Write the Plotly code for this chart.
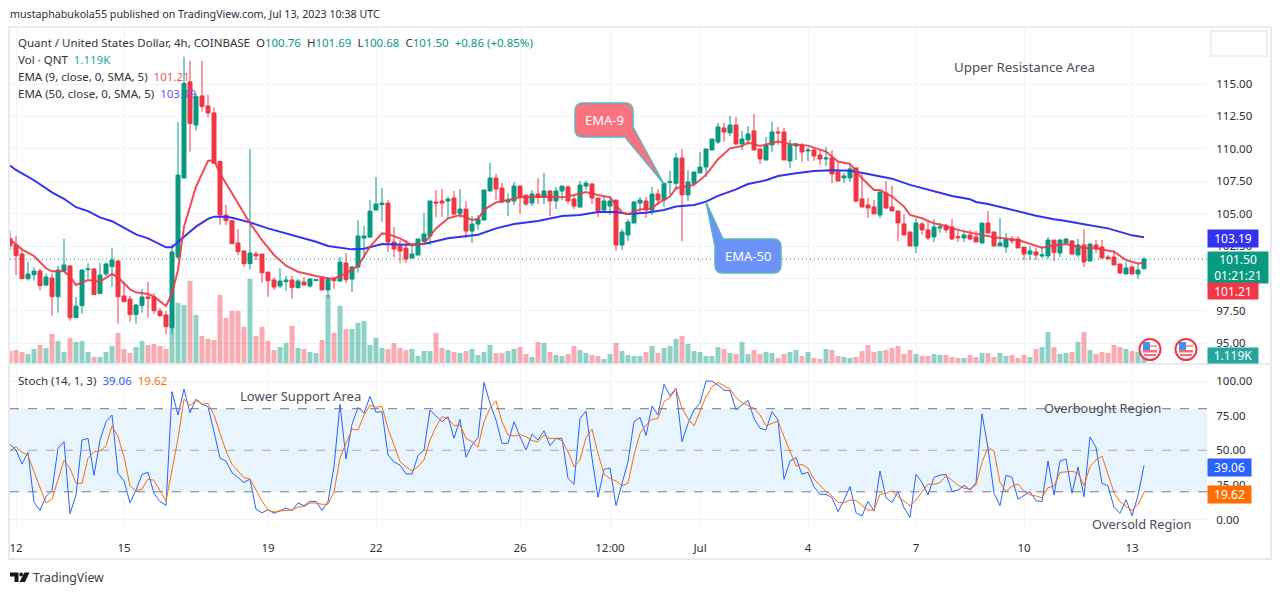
import pandas as pd
import plotly.graph_objects as go

FONT = "Noto Sans"
GREEN = "#089981"
RED = "#f23645"

# 4h bars, the first one is Jun 11 20:00
opens = [
    103.10, 102.59, 101.89, 99.99, 100.30, 100.58, 99.50, 100.04, 98.60, 100.58,
    100.97, 96.98, 97.91, 100.69, 100.74, 98.84, 100.35, 100.92, 101.35, 98.66,
    98.42, 97.22, 97.91, 98.58, 98.58, 97.50, 97.19, 96.21, 101.66, 107.75,
    115.16, 111.84, 114.08, 113.31, 112.77, 109.02, 104.90, 104.46, 102.74, 102.12,
    101.15, 101.89, 101.89, 100.50, 99.89, 99.43, 99.76, 99.89, 99.30, 99.73,
    99.43, 99.84, 100.04, 99.12, 100.00, 99.81, 101.20, 99.96, 100.89, 103.12,
    103.20, 105.28, 105.70, 105.82, 102.82, 102.51, 102.35, 101.58, 101.81, 102.87,
    103.28, 105.90, 105.98, 105.98, 106.21, 105.03, 105.36, 103.66, 104.20, 104.51,
    106.75, 107.75, 106.98, 105.90, 105.98, 107.13, 106.44, 105.82, 106.52, 106.26,
    106.75, 105.98, 106.75, 107.06, 106.13, 105.51, 107.13, 107.29, 106.21, 105.28,
    105.59, 106.05, 102.58, 103.36, 104.28, 105.82, 105.98, 105.28, 106.52, 106.06,
    107.40, 107.34, 109.30, 106.45, 107.34, 108.14, 108.60, 109.91, 110.53, 111.61,
    111.23, 111.84, 110.38, 110.69, 111.38, 109.99, 109.14, 110.30, 111.30, 111.30,
    109.07, 110.22, 110.30, 109.84, 109.91, 109.53, 109.22, 109.30, 108.22, 107.76,
    107.76, 108.53, 106.14, 105.67, 105.52, 104.90, 106.60, 105.52, 105.21, 104.21,
    103.59, 102.51, 104.21, 103.75, 103.21, 103.90, 104.10, 103.98, 103.23, 103.13,
    103.36, 103.21, 102.74, 104.28, 103.59, 102.51, 102.43, 103.05, 103.05, 102.43,
    101.89, 102.05, 101.74, 101.74, 102.97, 101.97, 102.74, 102.90, 101.82, 102.59,
    101.35, 102.59, 102.43, 101.66, 101.66, 101.12, 100.35, 100.89, 100.35, 100.76,
]
highs = [
    103.67, 103.28, 102.20, 101.30, 100.87, 100.79, 100.40, 100.40, 100.97, 103.05,
    101.05, 98.58, 100.66, 101.17, 100.81, 101.20, 101.23, 102.36, 101.43, 99.73,
    98.66, 98.04, 99.20, 99.73, 98.89, 97.76, 97.50, 102.66, 112.07, 117.11,
    116.78, 114.28, 116.78, 114.16, 113.20, 109.10, 105.67, 104.46, 103.82, 102.20,
    109.99, 102.12, 101.89, 100.50, 100.10, 100.81, 100.20, 100.20, 99.97, 100.12,
    99.97, 99.95, 100.12, 100.12, 100.00, 101.66, 101.97, 100.97, 104.51, 104.05,
    106.05, 107.83, 106.98, 106.05, 103.97, 102.97, 102.97, 102.60, 103.05, 105.05,
    105.98, 106.83, 106.90, 106.31, 106.75, 106.90, 105.98, 104.82, 104.90, 106.83,
    108.91, 108.06, 107.36, 106.57, 107.44, 107.21, 106.44, 106.83, 107.75, 108.14,
    106.83, 107.06, 107.13, 107.21, 106.44, 107.52, 107.52, 107.36, 106.21, 106.36,
    106.36, 106.05, 103.82, 104.59, 105.98, 106.29, 106.29, 107.06, 106.90, 107.44,
    108.30, 109.68, 109.99, 108.37, 108.22, 109.76, 109.99, 110.76, 112.00, 112.00,
    112.54, 112.46, 111.38, 111.77, 112.69, 109.99, 110.92, 112.07, 111.69, 111.61,
    110.69, 110.46, 110.46, 110.15, 110.07, 109.91, 110.15, 109.91, 109.07, 108.14,
    108.76, 108.53, 108.22, 106.21, 106.06, 106.68, 107.52, 107.14, 105.21, 104.98,
    103.59, 104.67, 104.36, 104.44, 104.59, 104.29, 104.21, 104.59, 103.67, 103.67,
    103.75, 103.67, 104.28, 105.21, 103.59, 104.67, 103.51, 103.28, 103.28, 102.43,
    102.51, 102.36, 102.51, 103.20, 102.97, 103.05, 103.13, 102.97, 103.05, 103.82,
    102.67, 102.97, 102.97, 101.82, 102.20, 101.12, 101.28, 101.05, 101.12, 101.69,
]
lows = [
    102.20, 100.27, 99.99, 99.84, 99.84, 99.07, 99.43, 97.14, 97.37, 100.53,
    96.75, 96.98, 97.29, 100.02, 98.76, 98.84, 100.20, 99.37, 96.52, 98.22,
    96.68, 96.52, 97.37, 96.98, 97.29, 97.06, 95.67, 95.75, 101.50, 107.70,
    109.79, 111.41, 112.87, 112.43, 108.85, 104.15, 104.13, 102.69, 101.82, 100.92,
    100.69, 101.43, 99.68, 98.60, 99.12, 99.25, 99.07, 98.45, 99.22, 99.50,
    99.30, 99.80, 99.12, 98.50, 99.22, 99.73, 99.65, 98.96, 100.45, 101.53,
    103.12, 105.28, 104.36, 102.05, 101.66, 101.20, 101.20, 101.58, 101.81, 102.87,
    102.58, 104.74, 104.74, 104.59, 104.90, 104.67, 103.12, 102.76, 103.74, 104.51,
    106.75, 106.05, 105.82, 104.82, 105.67, 104.97, 105.59, 105.59, 105.75, 105.75,
    104.82, 105.36, 106.05, 105.75, 105.36, 105.51, 106.83, 105.75, 104.74, 105.13,
    104.90, 102.12, 102.20, 102.89, 104.28, 105.13, 104.67, 104.90, 105.67, 105.52,
    106.45, 106.83, 102.90, 105.98, 107.14, 108.14, 107.83, 109.91, 110.38, 110.53,
    111.00, 110.30, 109.91, 110.30, 109.91, 108.84, 109.14, 109.76, 110.30, 109.14,
    108.53, 109.14, 108.99, 109.07, 109.07, 108.76, 108.68, 107.37, 107.52, 107.37,
    107.45, 105.83, 105.52, 104.67, 104.98, 104.67, 105.37, 105.21, 102.90, 103.36,
    102.51, 101.97, 103.36, 102.98, 102.82, 103.52, 103.52, 102.97, 102.82, 102.82,
    102.97, 102.82, 102.74, 103.51, 102.51, 102.51, 101.97, 102.67, 102.36, 101.43,
    101.43, 101.43, 101.59, 101.51, 101.35, 101.66, 102.67, 101.82, 101.66, 100.89,
    101.35, 101.97, 101.59, 101.43, 101.05, 100.35, 100.35, 100.35, 99.97, 100.68,
]
closes = [
    102.54, 101.76, 99.99, 100.35, 100.58, 99.45, 100.12, 98.60, 100.66, 101.05,
    96.98, 97.88, 100.66, 100.74, 98.76, 100.27, 101.12, 101.43, 98.60, 98.22,
    97.22, 97.96, 98.58, 98.48, 97.52, 97.14, 96.29, 102.05, 107.98, 115.05,
    111.95, 114.03, 113.26, 112.77, 108.89, 104.90, 104.46, 102.69, 102.07, 101.15,
    101.97, 101.74, 100.45, 99.84, 99.35, 99.81, 99.89, 99.30, 99.81, 99.50,
    99.97, 99.91, 99.12, 99.97, 99.83, 101.27, 99.91, 100.89, 103.28, 103.28,
    105.20, 105.75, 105.82, 102.82, 102.28, 102.12, 101.50, 101.89, 103.05, 103.43,
    105.98, 105.82, 105.82, 106.13, 104.97, 105.36, 103.66, 104.20, 104.59, 106.83,
    107.75, 106.90, 105.90, 106.05, 107.13, 106.26, 105.75, 106.52, 106.26, 106.75,
    105.98, 106.75, 107.13, 105.98, 105.59, 107.21, 107.36, 106.21, 105.20, 105.98,
    105.98, 102.58, 103.59, 104.36, 105.90, 106.05, 105.28, 106.52, 106.05, 107.34,
    107.47, 109.30, 106.45, 107.45, 108.22, 108.60, 109.99, 110.76, 111.69, 111.30,
    111.84, 110.38, 110.76, 111.15, 109.91, 109.22, 110.30, 111.30, 111.23, 109.14,
    110.30, 110.38, 109.76, 109.91, 109.45, 109.22, 109.30, 108.06, 107.52, 107.91,
    108.45, 105.98, 105.52, 105.44, 104.98, 106.68, 105.44, 105.21, 104.29, 103.36,
    102.51, 104.29, 103.75, 103.13, 103.98, 103.98, 103.75, 103.05, 103.15, 103.36,
    103.05, 102.82, 104.28, 103.51, 102.51, 102.74, 103.05, 102.90, 102.36, 101.89,
    102.13, 101.82, 101.82, 102.97, 102.00, 102.97, 103.05, 101.89, 102.59, 101.28,
    102.67, 102.28, 101.59, 101.53, 101.05, 100.43, 100.82, 100.35, 100.66, 101.50,
]
# thousands of QNT
volumes = [
    1.34, 1.45, 1.23, 1.01, 1.57, 2.01, 1.68, 3.25, 2.46, 1.23,
    2.80, 2.35, 2.46, 1.23, 0.67, 0.67, 1.23, 1.90, 3.36, 1.57,
    1.12, 1.79, 2.46, 2.01, 2.13, 1.90, 1.57, 5.20, 6.71, 6.49,
    9.18, 5.37, 3.02, 2.69, 2.57, 7.61, 5.04, 5.82, 5.82, 4.03,
    9.40, 3.02, 4.03, 2.46, 1.45, 1.79, 2.24, 4.14, 1.68, 1.57,
    1.23, 1.12, 2.57, 7.61, 3.36, 6.38, 3.80, 3.80, 4.48, 4.70,
    2.01, 2.80, 1.68, 1.57, 2.24, 1.68, 1.45, 1.57, 0.78, 1.34,
    1.34, 3.36, 1.68, 1.45, 1.23, 1.12, 1.34, 1.57, 0.90, 1.23,
    2.01, 1.12, 1.12, 1.34, 1.57, 1.79, 1.01, 0.67, 2.35, 2.24,
    1.23, 0.90, 0.78, 1.01, 1.90, 1.45, 1.12, 0.90, 0.78, 0.45,
    1.01, 2.24, 1.34, 0.90, 0.78, 0.78, 1.23, 1.90, 1.12, 1.68,
    1.90, 2.69, 3.02, 2.13, 1.34, 1.23, 0.78, 0.78, 1.79, 1.57,
    1.12, 1.01, 2.35, 1.01, 1.45, 1.01, 1.23, 1.12, 0.56, 1.01,
    1.23, 1.45, 0.78, 1.23, 0.56, 0.45, 1.57, 1.45, 0.78, 0.67,
    0.56, 0.67, 1.34, 2.01, 1.23, 1.34, 1.45, 1.68, 1.90, 1.01,
    1.45, 1.01, 0.78, 0.78, 1.01, 0.90, 0.90, 0.67, 0.56, 0.56,
    0.90, 0.67, 1.12, 1.12, 0.67, 1.12, 0.78, 0.90, 0.56, 0.90,
    0.67, 1.57, 1.79, 3.47, 1.79, 1.01, 1.12, 1.23, 2.35, 3.47,
    1.45, 1.01, 1.23, 1.12, 2.01, 1.79, 1.57, 1.34, 1.23, 1.119,
]

# the EMAs at these bars only
ema9_bars = [
    -1, 1, 3, 5, 6, 8, 9, 10, 12, 14, 16, 17, 19, 20, 22, 23, 25, 26, 27, 28, 30,
    31, 32, 33, 34, 36, 39, 41, 43, 45, 47, 50, 52, 53, 55, 57, 59, 61, 62, 64,
    66, 68, 70, 72, 74, 76, 77, 78, 80, 82, 84, 88, 91, 93, 95, 97, 99, 101, 102,
    104, 106, 107, 109, 110, 113, 115, 117, 119, 121, 122, 124, 127, 129, 132,
    135, 137, 139, 141, 143, 144, 146, 148, 149, 151, 153, 155, 156, 159, 161,
    163, 167, 169, 171, 173, 175, 178, 180, 183, 185, 187, 188,
]
ema9_vals = [
    103.00, 102.25, 101.74, 100.79, 100.56, 100.56, 100.15, 99.50, 99.89, 99.76,
    100.35, 100.09, 99.17, 98.94, 98.81, 98.60, 97.88, 98.86, 100.66, 104.00,
    107.08, 108.10, 109.07, 109.14, 108.10, 106.57, 104.26, 102.97, 101.82, 100.99,
    100.53, 100.20, 100.02, 100.01, 100.40, 100.97, 102.46, 103.48, 103.43, 103.10,
    102.58, 102.71, 103.87, 104.64, 104.90, 104.51, 104.59, 105.30, 105.87, 106.05,
    106.26, 106.31, 106.26, 106.44, 106.67, 106.44, 106.26, 105.10, 104.97, 105.33,
    105.41, 105.80, 106.32, 106.96, 107.22, 107.99, 109.20, 110.04, 110.22, 110.48,
    110.22, 110.56, 110.38, 110.25, 109.79, 109.02, 108.84, 107.73, 106.83, 106.83,
    106.32, 105.55, 104.90, 104.65, 104.26, 104.05, 103.87, 103.54, 103.36, 103.18,
    102.97, 102.67, 102.38, 102.54, 102.67, 102.33, 102.33, 102.07, 101.43, 101.17,
    101.21,
]
ema50_bars = [
    -1, 0, 3, 6, 8, 10, 12, 14, 16, 20, 22, 25, 26, 27, 28, 30, 32, 33, 35, 36, 39,
    42, 45, 47, 50, 52, 56, 58, 61, 65, 68, 72, 75, 77, 80, 83, 87, 91, 94, 97,
    100, 102, 105, 107, 108, 110, 113, 115, 117, 120, 122, 125, 127, 130, 133,
    136, 139, 142, 144, 146, 149, 152, 155, 156, 159, 160, 162, 167, 170, 173,
    175, 178, 182, 186, 188,
]
ema50_vals = [
    108.71, 108.37, 107.58, 106.65, 106.15, 105.50, 105.20, 104.72, 104.42, 103.40,
    103.10, 102.41, 102.41, 102.84, 103.23, 104.00, 104.60, 104.77, 104.77, 104.68,
    104.33, 103.87, 103.49, 103.25, 102.84, 102.51, 102.25, 102.30, 102.66, 102.61,
    102.66, 103.10, 103.28, 103.38, 103.87, 104.20, 104.43, 104.82, 104.90, 105.13,
    105.13, 104.97, 105.08, 105.20, 105.29, 105.55, 105.67, 105.93, 106.37, 106.88,
    107.29, 107.58, 107.91, 108.12, 108.30, 108.35, 108.32, 108.06, 107.86, 107.70,
    107.22, 106.83, 106.47, 106.37, 106.11, 105.90, 105.75, 105.18, 104.85, 104.57,
    104.44, 104.18, 103.87, 103.33, 103.19,
]

stoch_k = [
    54.3, 50.2, 40.1, 48.5, 12.4, 6.6, 16.7, 20.8, 51.4, 56.2,
    4.2, 17.7, 57.4, 58.6, 31.9, 57.2, 70.6, 75.5, 33.3, 28.0,
    11.9, 21.3, 32.6, 34.1, 18.9, 12.9, 10.2, 92.3, 75.5, 94.2,
    77.1, 86.8, 83.2, 81.5, 63.4, 44.2, 42.2, 33.8, 30.4, 26.6,
    29.2, 7.3, 4.9, 7.1, 4.5, 6.6, 8.3, 6.4, 11.9, 10.0,
    13.1, 13.1, 6.6, 12.9, 38.1, 83.2, 43.7, 68.7, 81.0, 76.7,
    88.9, 77.4, 77.9, 46.6, 41.5, 39.3, 32.9, 32.9, 46.1, 50.2,
    79.1, 74.7, 70.6, 74.2, 58.6, 72.3, 44.9, 53.8, 59.1, 99.0,
    83.9, 71.8, 55.0, 55.0, 70.6, 59.8, 50.2, 61.5, 57.4, 64.1,
    53.3, 58.6, 58.6, 29.7, 25.4, 73.0, 78.3, 44.2, 16.0, 36.2,
    37.2, 10.0, 26.1, 41.8, 70.6, 73.8, 60.6, 81.9, 75.5, 97.6,
    89.4, 94.7, 56.2, 69.4, 79.1, 83.9, 100.0, 99.8, 97.1, 93.3,
    93.0, 79.1, 82.7, 86.0, 73.0, 65.8, 64.6, 77.9, 71.8, 29.0,
    42.2, 44.6, 32.6, 34.1, 23.7, 18.2, 18.2, 15.8, 5.7, 14.1,
    23.7, 4.9, 2.5, 13.1, 6.1, 35.0, 15.8, 12.2, 20.1, 8.5,
    1.6, 32.6, 26.8, 17.7, 30.4, 32.1, 32.6, 20.3, 21.1, 24.7,
    21.3, 26.6, 76.4, 51.4, 19.1, 10.0, 31.9, 30.4, 14.6, 17.2,
    20.1, 13.6, 12.9, 42.2, 17.7, 42.2, 43.7, 18.9, 37.9, 16.5,
    59.6, 52.1, 26.1, 24.4, 8.8, 4.5, 14.3, 2.8, 17.2, 39.06,
]
stoch_d = [
    49.5, 52.6, 48.5, 46.3, 34.5, 23.7, 11.9, 14.6, 28.5, 42.7,
    37.0, 26.1, 26.1, 44.2, 49.0, 49.5, 53.1, 67.5, 59.8, 45.4,
    24.4, 20.6, 22.0, 29.2, 28.3, 21.3, 13.4, 35.7, 58.6, 87.0,
    82.2, 86.0, 83.2, 83.9, 75.5, 62.2, 49.5, 39.8, 35.0, 30.2,
    29.2, 21.3, 13.4, 6.9, 5.4, 6.1, 6.6, 6.9, 9.0, 9.3,
    11.9, 11.9, 11.0, 11.0, 20.1, 44.2, 55.0, 65.3, 64.6, 75.5,
    82.4, 81.2, 81.5, 65.8, 53.8, 41.8, 38.1, 35.0, 38.1, 43.0,
    57.4, 67.0, 74.2, 73.0, 67.7, 68.2, 58.6, 56.2, 52.3, 70.6,
    80.3, 85.6, 70.6, 61.0, 60.3, 61.2, 59.8, 56.9, 56.2, 61.0,
    58.4, 58.6, 56.9, 49.0, 38.1, 43.0, 59.1, 65.3, 47.8, 32.6,
    29.7, 27.8, 24.4, 26.1, 46.6, 62.2, 68.2, 72.3, 73.0, 85.1,
    88.2, 94.2, 80.3, 73.0, 67.5, 77.9, 88.7, 95.7, 99.0, 96.6,
    94.2, 88.0, 84.4, 82.2, 80.3, 75.5, 67.7, 69.4, 71.1, 59.8,
    49.0, 38.6, 39.8, 37.0, 29.2, 24.4, 20.1, 17.2, 12.4, 12.1,
    14.1, 13.8, 10.5, 6.6, 6.9, 18.2, 18.9, 20.8, 16.5, 13.4,
    10.0, 14.1, 20.1, 25.6, 25.4, 26.6, 31.6, 28.5, 24.9, 22.5,
    22.0, 24.9, 41.3, 52.1, 49.5, 26.8, 20.1, 24.2, 25.6, 20.6,
    17.7, 17.0, 15.8, 23.0, 24.2, 34.0, 34.5, 34.8, 33.6, 24.4,
    38.1, 43.0, 45.8, 33.3, 19.4, 12.9, 9.3, 6.6, 11.0, 19.62,
]

assert len(opens) == len(highs) == len(lows) == len(closes) == len(volumes) == len(stoch_k) == len(stoch_d)
assert len(ema9_bars) == len(ema9_vals) and len(ema50_bars) == len(ema50_vals)

price_ticks = [95, 97.5, 100, 102.5, 105, 107.5, 110, 112.5, 115]
stoch_ticks = [0, 25, 50, 75, 100]
stoch_levels = [80, 50, 20]
date_ticks = ["2023-06-12", "2023-06-15", "2023-06-19", "2023-06-22", "2023-06-26", "2023-06-28 12:00",
              "2023-07-01", "2023-07-04", "2023-07-07", "2023-07-10", "2023-07-13"]
date_labels = ["12", "15", "19", "22", "26", "12:00", "Jul", "4", "7", "10", "13"]

first_bar = pd.Timestamp("2023-06-11 20:00")
step = pd.Timedelta(hours=4)
dates = [first_bar + step * i for i in range(len(closes))]


def bar_date(i):
    return first_bar + step * (i + 1)


# pixel helpers for everything that sits on the page rather than on the data
WIDTH, HEIGHT = 1281, 595
L, R, T, B = 10, 74, 28, 37
PW, PH = WIDTH - L - R, HEIGHT - T - B


def px(x):
    return (x - L) / PW


def py(y):
    return 1 - (y - T) / PH


def pt(x, y):
    return f"{px(x)} {py(y)}"


def poly(points):
    return "M " + " L ".join(pt(x, y) for x, y in points) + " Z"


def page_shape(**kw):
    return dict(xref="paper", yref="paper", **kw)


def page_rect(x0, y0, x1, y1, **kw):
    return page_shape(type="rect", x0=px(x0), x1=px(x1), y0=py(y0), y1=py(y1), **kw)


def page_circle(cx, cy, r, **kw):
    return page_shape(type="circle", x0=px(cx - r), x1=px(cx + r), y0=py(cy - r), y1=py(cy + r), **kw)


def text(x, y, s, color="#131722", size=12, anchor="left"):
    # annotations carry 2px of padding on the left
    return dict(xref="paper", yref="paper", x=px(x - 2 if anchor == "left" else x), y=py(y), text=s, showarrow=False,
                xanchor=anchor, yanchor="middle", font=dict(family=FONT, size=size, color=color))


def tag(x, y, w, h, s, bg):
    return dict(xref="paper", yref="paper", x=px(x), y=py(y), text=s, showarrow=False, xanchor="left",
                yanchor="top", width=w, height=h, bgcolor=bg, borderpad=0, align="center", valign="middle",
                font=dict(family=FONT, size=12, color="white"))


def bubble(x0, y0, x1, y1, fill, tail_a=None, tip=None, tail_b=None, corner="br"):
    # rounded box, the pointer replaces the bottom right or the top left corner
    r = 8
    d = [f"M {pt(x0 + r, y0)}"]
    if corner == "tl":
        d = [f"M {pt(*tail_b)}"]
    d += [f"L {pt(x1 - r, y0)}", f"Q {pt(x1, y0)} {pt(x1, y0 + r)}"]
    if corner == "br":
        d += [f"L {pt(*tail_a)}", f"L {pt(*tip)}", f"L {pt(*tail_b)}"]
    else:
        d += [f"L {pt(x1, y1 - r)}", f"Q {pt(x1, y1)} {pt(x1 - r, y1)}"]
    if corner == "br":
        d += [f"L {pt(x0 + r, y1)}"]
    else:
        d += [f"L {pt(x0 + r, y1)}"]
    d += [f"Q {pt(x0, y1)} {pt(x0, y1 - r)}"]
    if corner == "tl":
        d += [f"L {pt(*tail_a)}", f"L {pt(*tip)}", "Z"]
    else:
        d += [f"L {pt(x0, y0 + r)}", f"Q {pt(x0, y0)} {pt(x0 + r, y0)}", "Z"]
    return page_shape(type="path", path=" ".join(d), fillcolor=fill, line=dict(color="#5fb3c4", width=1.5))


GRID = "#f0f3fa"
fig = go.Figure()

fig.add_trace(go.Bar(
    x=dates, y=volumes, xaxis="x", yaxis="y",
    marker=dict(color=["rgba(8,153,129,0.45)" if c >= o else "rgba(242,54,69,0.42)" for o, c in zip(opens, closes)],
                line=dict(width=0)),
))
fig.add_trace(go.Candlestick(
    x=dates, open=opens, high=highs, low=lows, close=closes, xaxis="x", yaxis="y2",
    increasing=dict(line=dict(color=GREEN, width=1), fillcolor=GREEN),
    decreasing=dict(line=dict(color=RED, width=1), fillcolor=RED),
))
fig.add_trace(go.Scatter(x=[bar_date(i) for i in ema50_bars], y=ema50_vals, mode="lines", xaxis="x", yaxis="y2",
                         line=dict(color="#3232f0", width=2)))
fig.add_trace(go.Scatter(x=[bar_date(i) for i in ema9_bars], y=ema9_vals, mode="lines", xaxis="x", yaxis="y2",
                         line=dict(color="rgba(242,54,69,0.9)", width=2)))
fig.add_trace(go.Scatter(x=dates, y=stoch_k, mode="lines", xaxis="x", yaxis="y3",
                         line=dict(color="#2962ff", width=1)))
fig.add_trace(go.Scatter(x=dates, y=stoch_d, mode="lines", xaxis="x", yaxis="y3",
                         line=dict(color="#ff6d00", width=1)))

shapes = [
    # page frame and pane separator
    page_rect(9, 27, 1271, 559, line=dict(color="#e9ebf2", width=2), layer="below"),
    page_rect(10, 363, 1270, 365, fillcolor="#e9ebf2", line=dict(width=0), layer="below"),
    page_shape(type="rect", x0=px(1211), x1=px(1267), y0=py(31), y1=py(56), line=dict(color="#eeeff5", width=2),
               fillcolor="white"),
    # stochastic band and levels
    dict(type="rect", xref="x domain", yref="y3", x0=0, x1=1, y0=stoch_levels[2], y1=stoch_levels[0],
         fillcolor="rgba(33,150,243,0.1)", line=dict(width=0), layer="below"),
    dict(type="line", xref="x domain", yref="y3", x0=0, x1=1, y0=stoch_levels[0], y1=stoch_levels[0],
         line=dict(color="#787b86", width=1, dash="dash")),
    dict(type="line", xref="x domain", yref="y3", x0=0, x1=1, y0=stoch_levels[1], y1=stoch_levels[1],
         line=dict(color="rgba(120,123,134,0.6)", width=1, dash="dash")),
    dict(type="line", xref="x domain", yref="y3", x0=0, x1=1, y0=stoch_levels[2], y1=stoch_levels[2],
         line=dict(color="#787b86", width=1, dash="dash")),
    # last price line
    dict(type="line", xref="x domain", yref="y2", x0=0, x1=1, y0=closes[-1], y1=closes[-1],
         line=dict(color=GREEN, width=1, dash="1px,3px")),
]

# callouts
shapes.append(bubble(575, 103, 633, 137, "#f8737f", tail_a=(633, 127), tip=(664, 184), tail_b=(625, 137)))
shapes.append(bubble(715, 239, 781, 273, "#6b92f6", tail_a=(715, 246), tip=(706, 202), tail_b=(723, 239), corner="tl"))

# event flags on the volume pane
for cx in [1150, 1186]:
    shapes += [
        page_circle(cx, 349.5, 10.5, fillcolor="white", line=dict(color=RED, width=2)),
        page_rect(cx - 7, 345, cx + 7, 347, fillcolor="#f7a0a7", line=dict(width=0)),
        page_rect(cx - 7, 350, cx + 7, 352.5, fillcolor="#f26b76", line=dict(width=0)),
        page_rect(cx - 6, 354, cx + 6, 356, fillcolor="#f26b76", line=dict(width=0)),
        page_rect(cx - 7, 342, cx, 350, fillcolor="#4a90e8", line=dict(width=0)),
    ]

# logo
shapes += [
    page_shape(type="path", path=poly([(10, 572.5), (18.5, 572.5), (18.5, 582), (14.5, 582), (14.5, 576.5), (10, 576.5)]),
               fillcolor="#131722", line=dict(width=0)),
    page_circle(21.2, 574.5, 1.9, fillcolor="#131722", line=dict(width=0)),
    page_shape(type="path", path=poly([(24.5, 572.5), (29.5, 572.5), (25, 582), (19.5, 582)]),
               fillcolor="#131722", line=dict(width=0)),
]

val = lambda s: f'<span style="color:{GREEN}">{s}</span>'
annotations = [
    text(10, 14, "mustaphabukola55 published on TradingView.com, Jul 13, 2023 10:38 UTC", color="#2a2e39", size=10.7),
    text(18, 42, "Quant / United States Dollar, 4h, COINBASE  O" + val("100.76") + "  H" + val("101.69")
         + "  L" + val("100.68") + "  C" + val("101.50") + "  " + val("+0.86 (+0.85%)"), color="#333", size=11.5),
    text(18, 59.5, "Vol · QNT  " + '<span style="color:#26a69a">1.119K</span>', color="#333", size=11.5),
    text(18, 76.5, "EMA (9, close, 0, SMA, 5)  " + '<span style="color:#f7525f">101.21</span>', color="#333", size=11.5),
    text(18, 93.5, "EMA (50, close, 0, SMA, 5)  " + '<span style="color:#5a5aff">103.19</span>', color="#333", size=11.5),
    text(18, 380, "Stoch (14, 1, 3)  " + '<span style="color:#2962ff">39.06</span>  '
         + '<span style="color:#ff6d00">19.62</span>', color="#333", size=11.5),
    text(954, 67, "Upper Resistance Area", color="#4a4e5a", size=13.3),
    text(240, 396, "Lower Support Area", color="#4a4e5a", size=13),
    text(1044, 408, "Overbought Region", color="#4a4e5a", size=12.7),
    text(1092, 524, "Oversold Region", color="#4a4e5a", size=12.8),
    text(604, 120, "EMA-9", color="white", size=13, anchor="center"),
    text(748, 256, "EMA-50", color="white", size=13, anchor="center"),
    text(33, 577, "TradingView", color="#3b3e47", size=12.3),
    tag(1207, 229, 50, 17, "103.19", "#3232f0"),
    tag(1207, 251, 60, 31, "101.50<br>01:21:21", GREEN),
    tag(1207, 282, 50, 16, "101.21", RED),
    tag(1207, 347, 50, 15, "1.119K", "#26a69a"),
    tag(1207, 458, 43, 17, "39.06", "#2962ff"),
    tag(1207, 485, 43, 17, "19.62", "#ff6d00"),
]

tick_font = dict(family=FONT, size=11.5, color="#2a2e39")
fig.update_layout(
    width=WIDTH, height=HEIGHT, margin=dict(l=L, r=R, t=T, b=B), showlegend=False,
    paper_bgcolor="white", plot_bgcolor="white", bargap=0.17, boxgap=0.05, boxgroupgap=0.3,
    shapes=shapes, annotations=annotations, hovermode=False,
    xaxis=dict(
        domain=[0, 1], anchor="y3", type="date", rangeslider=dict(visible=False),
        range=[bar_date(-1), bar_date(198.5)], tickmode="array", tickvals=date_ticks, ticktext=date_labels,
        showgrid=True, gridcolor=GRID, gridwidth=1, zeroline=False, showline=False,
        ticks="outside", ticklen=7, tickcolor="rgba(0,0,0,0)", tickfont=tick_font,
    ),
    yaxis=dict(domain=[py(363), py(28)], range=[0, 37.4], visible=False, anchor="x"),
    yaxis2=dict(
        domain=[py(363), py(28)], overlaying="y", side="right", anchor="x",
        range=[115 - (363 - 84) / 12.97, 115 - (28 - 84) / 12.97],
        tickmode="array", tickvals=price_ticks, tickformat=".2f",
        showgrid=True, gridcolor=GRID, zeroline=False, showline=False,
        ticks="outside", ticklen=6, tickcolor="rgba(0,0,0,0)", tickfont=tick_font,
    ),
    yaxis3=dict(
        domain=[py(530), py(365)], side="right", anchor="x",
        range=[(519.5 - 530) / 1.385, (519.5 - 365) / 1.385],
        tickmode="array", tickvals=stoch_ticks, tickformat=".2f",
        showgrid=True, gridcolor=GRID, zeroline=False, showline=False,
        ticks="outside", ticklen=6, tickcolor="rgba(0,0,0,0)", tickfont=tick_font,
    ),
)

fig.write_html("out.html", config={"displayModeBar": False},
               post_script="document.body.style.margin='0';document.body.style.overflow='hidden';")
